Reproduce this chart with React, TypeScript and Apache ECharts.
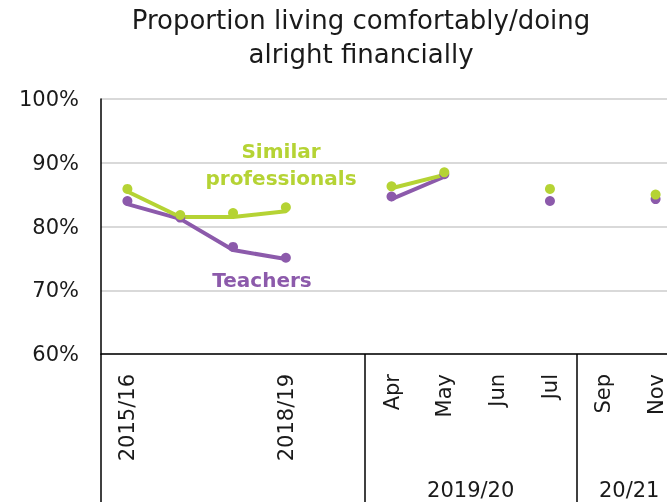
import React, { useEffect, useRef } from "react";
import * as echarts from "echarts";

const categories = ["2015/16", "", "", "2018/19", "", "Apr", "May", "Jun", "Jul", "Sep", "Nov"];
const yTicks = [60, 70, 80, 90, 100];

// dots (survey values)
const similarDots = [85.9, 81.8, 82.1, 83.0, null, 86.3, 88.5, null, 85.9, null, 85.0];
const teacherDots = [84.0, 81.4, 76.8, 75.1, null, 84.7, 88.2, null, 84.0, null, 84.3];
// connecting lines
const similarLine = [85.5, 81.5, 81.5, 82.4, null, 86.0, 88.1, null, null, null, null];
const teacherLine = [83.5, 81.2, 76.3, 74.9, null, 84.3, 87.8, null, null, null, null];

const groupLabels = ["2019/20", "20/21"];
const GREEN = "#b5d334";
const PURPLE = "#8c5aab";
const FONT = "DejaVu Sans";

export default function App() {
  const ref = useRef<HTMLDivElement>(null);
  useEffect(() => {
    if (!ref.current) return;
    const chart = echarts.init(ref.current, undefined, { renderer: "svg" });
    chart.setOption({
      animation: false,
      textStyle: { fontFamily: FONT },
      title: {
        text: "Proportion living comfortably/doing\nalright financially",
        left: 356,
        textAlign: "center",
        top: -2,
        textStyle: { fontFamily: FONT, fontSize: 26, fontWeight: "normal", color: "#1a1a1a", lineHeight: 34 },
      },
      grid: { left: 101, width: 581, top: 99, bottom: 148, containLabel: false, outerBoundsMode: "none" },
      xAxis: {
        type: "category",
        data: categories,
        boundaryGap: true,
        axisLine: { lineStyle: { color: "#000", width: 1.5 } },
        axisTick: {
          show: true,
          length: 148,
          interval: (i: number) => i === 0 || i === 5 || i === 9,
          lineStyle: { color: "#000", width: 1.5 },
        },
        axisLabel: {
          interval: 0,
          rotate: 90,
          margin: 20,
          fontSize: 21,
          color: "#1a1a1a",
          fontFamily: FONT,
        },
      },
      yAxis: {
        type: "value",
        min: yTicks[0],
        max: yTicks[yTicks.length - 1],
        interval: 10,
        axisLine: { show: true, lineStyle: { color: "#000", width: 1.5 } },
        axisTick: { show: false },
        axisLabel: { formatter: "{value}%", fontSize: 21, margin: 22, color: "#1a1a1a", fontFamily: FONT },
        splitLine: { show: true, lineStyle: { color: "#d9d9d9", width: 2 } },
      },
      series: [
        {
          type: "line",
          data: teacherLine,
          showSymbol: false,
          connectNulls: false,
          lineStyle: { color: PURPLE, width: 4, cap: "round", join: "round" },
          z: 2,
        },
        {
          type: "line",
          data: similarLine,
          showSymbol: false,
          connectNulls: false,
          lineStyle: { color: GREEN, width: 4, cap: "round", join: "round" },
          z: 3,
        },
        {
          type: "scatter",
          data: teacherDots,
          symbolSize: 10,
          itemStyle: { color: PURPLE, opacity: 1 },
          z: 4,
        },
        {
          type: "scatter",
          data: similarDots,
          symbolSize: 10,
          itemStyle: { color: GREEN, opacity: 1 },
          z: 5,
        },
      ],
    });

    const px = (i: number) => chart.convertToPixel({ xAxisIndex: 0 }, i) as number;
    const bottomY = 490;
    chart.setOption({
      graphic: [
        {
          type: "text",
          x: 281,
          y: 164,
          style: {
            text: "Similar\nprofessionals",
            fill: GREEN,
            font: `bold 20px ${FONT}`,
            align: "center",
            verticalAlign: "middle",
            lineHeight: 27,
          },
        },
        {
          type: "text",
          x: 262,
          y: 280,
          style: { text: "Teachers", fill: PURPLE, font: `bold 20px ${FONT}`, align: "center", verticalAlign: "middle" },
        },
        {
          type: "text",
          x: (px(6) + px(7)) / 2,
          y: bottomY,
          style: { text: groupLabels[0], fill: "#1a1a1a", font: `21px ${FONT}`, align: "center", verticalAlign: "middle" },
        },
        {
          type: "text",
          x: (px(9) + px(10)) / 2,
          y: bottomY,
          style: { text: groupLabels[1], fill: "#1a1a1a", font: `21px ${FONT}`, align: "center", verticalAlign: "middle" },
        },
      ],
    });
    return () => chart.dispose();
  }, []);
  return <div ref={ref} style={{ position: "fixed", left: 0, top: 0, width: 667, height: 502 }} />;
}
